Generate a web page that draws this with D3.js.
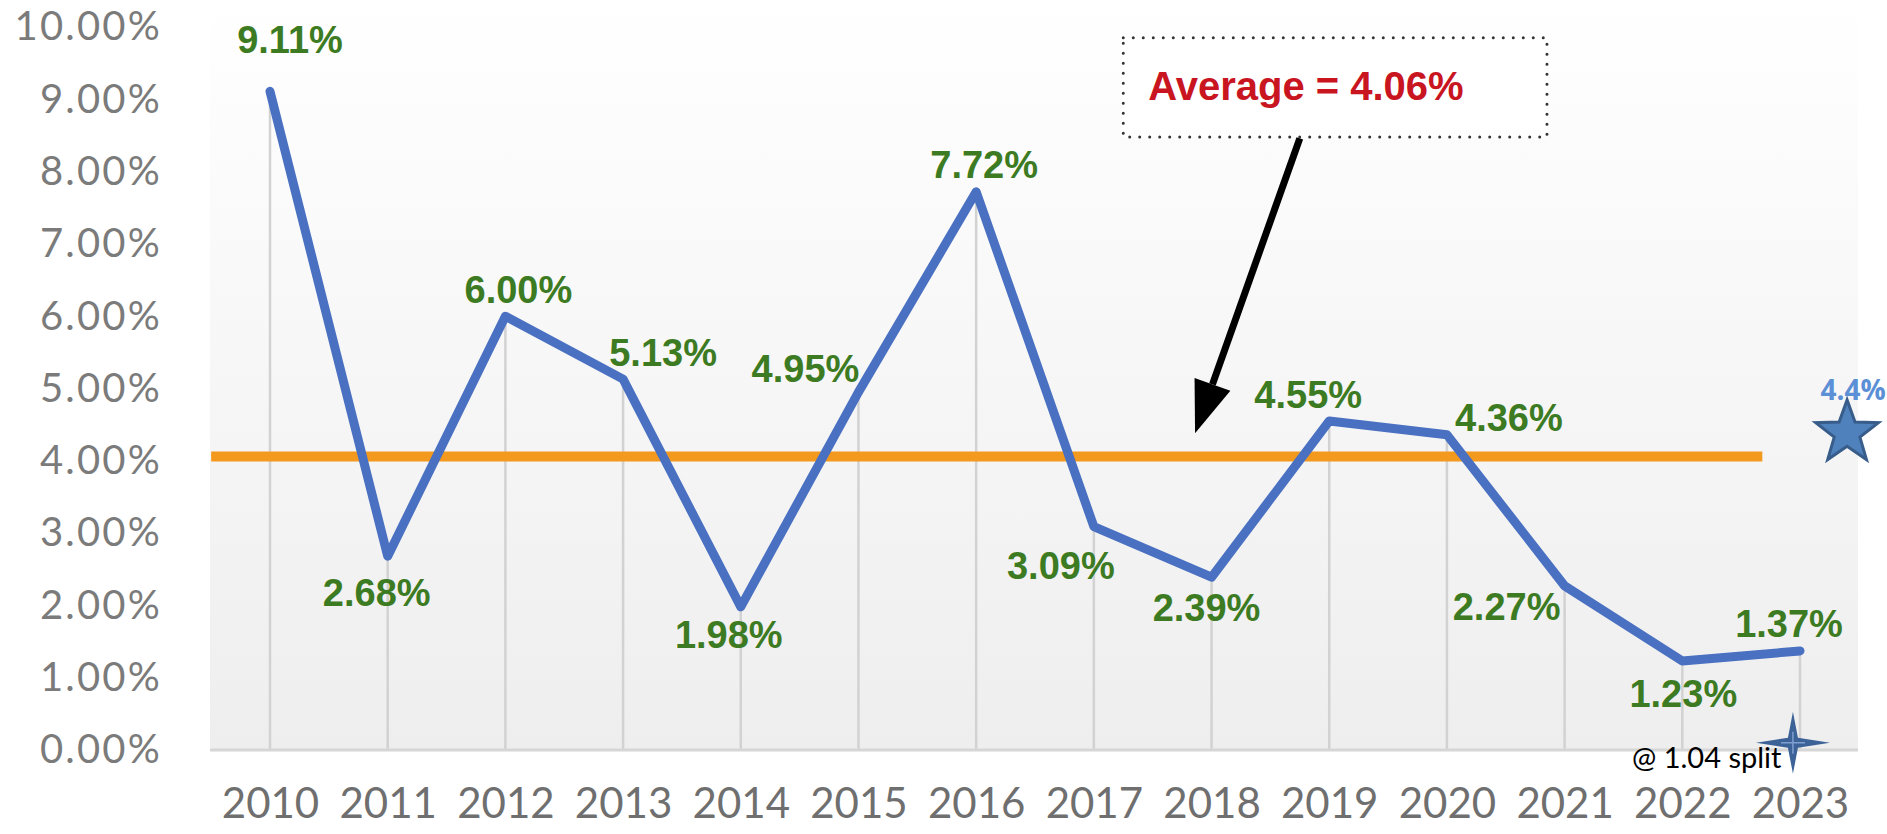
<!DOCTYPE html>
<html>
<head>
<meta charset="utf-8">
<script src="https://cdn.jsdelivr.net/npm/d3@7"></script>
<style>
  html, body { margin: 0; padding: 0; background: #fff; }
  svg { display: block; }
</style>
</head>
<body>
<svg id="chart" width="1887" height="834"></svg>
<script>
// values
const years = [2010, 2011, 2012, 2013, 2014, 2015, 2016, 2017, 2018, 2019, 2020, 2021, 2022, 2023];
const rates = [9.11, 2.68, 6.00, 5.13, 1.98, 4.95, 7.72, 3.09, 2.39, 4.55, 4.36, 2.27, 1.23, 1.37];
const yTicks = [0, 1, 2, 3, 4, 5, 6, 7, 8, 9, 10];
const average = 4.06;
const forecastValue = 4.4;
const forecastLabel = '4.4%';
const splitNote = '@ 1.04 split';

// where each value label sits relative to its point (px)
const labelOffsets = [
  [20, -38], [-11, 50], [13, -13], [40, -13], [-12, 41], [-53, -10], [8, -14],
  [-33, 52], [-5, 44], [-21, -13], [62, -4], [-58, 34], [1, 46], [-11, -14]
];

const W = 1887, H = 834;
const svg = d3.select('#chart');

const x = d3.scaleLinear().domain([2010, 2023]).range([270, 1800]);
const y = d3.scaleLinear().domain([0, 10]).range([750, 27]);

const data = years.map((yr, i) => ({ year: yr, rate: rates[i], off: labelOffsets[i] }));

// plot area background (soft vertical gradient)
const defs = svg.append('defs');
const grad = defs.append('linearGradient')
  .attr('id', 'bg').attr('x1', 0).attr('y1', 0).attr('x2', 0).attr('y2', 1);
grad.append('stop').attr('offset', '0%').attr('stop-color', '#ffffff');
grad.append('stop').attr('offset', '100%').attr('stop-color', '#eeeeee');

svg.append('rect')
  .attr('x', 210).attr('y', 0)
  .attr('width', 1858 - 210).attr('height', y(0))
  .attr('fill', 'url(#bg)');

// drop lines from baseline to each point
svg.append('g')
  .selectAll('line')
  .data(data)
  .join('line')
  .attr('x1', d => x(d.year)).attr('x2', d => x(d.year))
  .attr('y1', y(0)).attr('y2', d => y(d.rate))
  .attr('stroke', '#d2d2d2')
  .attr('stroke-width', 2.5);

// baseline
svg.append('line')
  .attr('x1', 210).attr('x2', 1858)
  .attr('y1', y(0)).attr('y2', y(0))
  .attr('stroke', '#d6d6d6').attr('stroke-width', 3);

// y axis
const yAxis = svg.append('g')
  .attr('transform', 'translate(170,0)')
  .call(d3.axisLeft(y).tickValues(yTicks).tickSize(0).tickPadding(8)
    .tickFormat(d => d.toFixed(2) + '%'));
yAxis.select('.domain').remove();
yAxis.selectAll('text')
  .attr('fill', '#7b7b7b')
  .style('font-family', 'Lato, "Open Sans", sans-serif')
  .style('font-size', '40px')
  .style('letter-spacing', '2.2px');

// x axis
const xAxis = svg.append('g')
  .attr('transform', `translate(0,${y(0)})`)
  .call(d3.axisBottom(x).tickValues(years).tickSize(0).tickPadding(38)
    .tickFormat(d3.format('d')));
xAxis.select('.domain').remove();
xAxis.selectAll('text')
  .attr('fill', '#6f6f6f')
  .style('font-family', 'Lato, "Open Sans", sans-serif')
  .style('font-size', '42px');

// average line
svg.append('line')
  .attr('x1', x(2009.5)).attr('x2', x(2022.68))
  .attr('y1', y(average)).attr('y2', y(average))
  .attr('stroke', '#f39a1e').attr('stroke-width', 10);

// rate line
const line = d3.line().x(d => x(d.year)).y(d => y(d.rate));
svg.append('path')
  .datum(data)
  .attr('d', line)
  .attr('fill', 'none')
  .attr('stroke', '#4a70c2')
  .attr('stroke-width', 9)
  .attr('stroke-linejoin', 'round')
  .attr('stroke-linecap', 'round');

// value labels
svg.append('g')
  .selectAll('text')
  .data(data)
  .join('text')
  .attr('x', d => x(d.year) + d.off[0])
  .attr('y', d => y(d.rate) + d.off[1])
  .attr('text-anchor', 'middle')
  .attr('fill', '#3d7b23')
  .style('font-family', '"Liberation Sans", Arial, sans-serif')
  .style('font-weight', 'bold')
  .style('font-size', '38px')
  .text(d => d.rate.toFixed(2) + '%');

// average callout box
const bx0 = x(2017.25), bx1 = x(2020.85), by0 = y(9.85), by1 = y(8.48);
svg.append('rect')
  .attr('x', bx0).attr('y', by0)
  .attr('width', bx1 - bx0).attr('height', by1 - by0)
  .attr('fill', '#ffffff')
  .attr('stroke', '#333')
  .attr('stroke-width', 3)
  .attr('stroke-dasharray', '0 10')
  .attr('stroke-linecap', 'round');

svg.append('text')
  .attr('x', bx0 + 25).attr('y', by0 + 62)
  .attr('fill', '#c8151f')
  .style('font-family', '"Liberation Sans", Arial, sans-serif')
  .style('font-weight', 'bold')
  .style('font-size', '40px')
  .text(`Average = ${average.toFixed(2)}%`);

// arrow from box toward the average line
const ax0 = x(2018.75), ay0 = y(8.46), ax1 = x(2017.86), ay1 = y(4.38);
const ang = Math.atan2(ay1 - ay0, ax1 - ax0);
const headLen = 52, headW = 19;
const bxh = ax1 - headLen * Math.cos(ang), byh = ay1 - headLen * Math.sin(ang);
svg.append('line')
  .attr('x1', ax0).attr('y1', ay0).attr('x2', bxh).attr('y2', byh)
  .attr('stroke', '#000').attr('stroke-width', 7);
svg.append('path')
  .attr('d', `M${ax1},${ay1}L${bxh + headW * Math.sin(ang)},${byh - headW * Math.cos(ang)}` +
    `L${bxh - headW * Math.sin(ang)},${byh + headW * Math.cos(ang)}Z`)
  .attr('fill', '#000');

// forecast star
function starPath(cx, cy, R, r, n) {
  const pts = [];
  for (let i = 0; i < n * 2; i++) {
    const rad = i % 2 === 0 ? R : r;
    const a = -Math.PI / 2 + i * Math.PI / n;
    pts.push([cx + rad * Math.cos(a), cy + rad * Math.sin(a)]);
  }
  return 'M' + pts.map(p => p.join(',')).join('L') + 'Z';
}
const sx = x(2023.4), sy = y(forecastValue);
svg.append('path')
  .attr('d', starPath(sx, sy + 1, 33, 13.5, 5))
  .attr('fill', '#4f81bd')
  .attr('stroke', '#385d8a')
  .attr('stroke-width', 3)
  .attr('stroke-linejoin', 'miter');
svg.append('text')
  .attr('x', sx + 6).attr('y', sy - 32)
  .attr('text-anchor', 'middle')
  .attr('fill', '#5b8fd6')
  .style('font-family', '"Open Sans", Lato, sans-serif')
  .style('font-weight', 'bold')
  .style('font-size', '28px')
  .text(forecastLabel);

// split note with a 4-point sparkle
svg.append('text')
  .attr('x', 1632).attr('y', 768)
  .attr('fill', '#000')
  .style('font-family', 'Lato, "Open Sans", sans-serif')
  .style('font-size', '29px')
  .text(splitNote);

const px = x(2022.94), py = y(0.1);
svg.append('path')
  .attr('d', `M${px},${py - 31}L${px + 5},${py - 5}L${px + 37},${py}L${px + 5},${py + 5}` +
    `L${px},${py + 31}L${px - 5},${py + 5}L${px - 37},${py}L${px - 5},${py - 5}Z`)
  .attr('fill', '#3c6298');
svg.append('path')
  .attr('d', `M${px - 12},${py}L${px + 12},${py}M${px},${py - 11}L${px},${py + 11}`)
  .attr('stroke', '#7f9fd0').attr('stroke-width', 1.5);
</script>
</body>
</html>
